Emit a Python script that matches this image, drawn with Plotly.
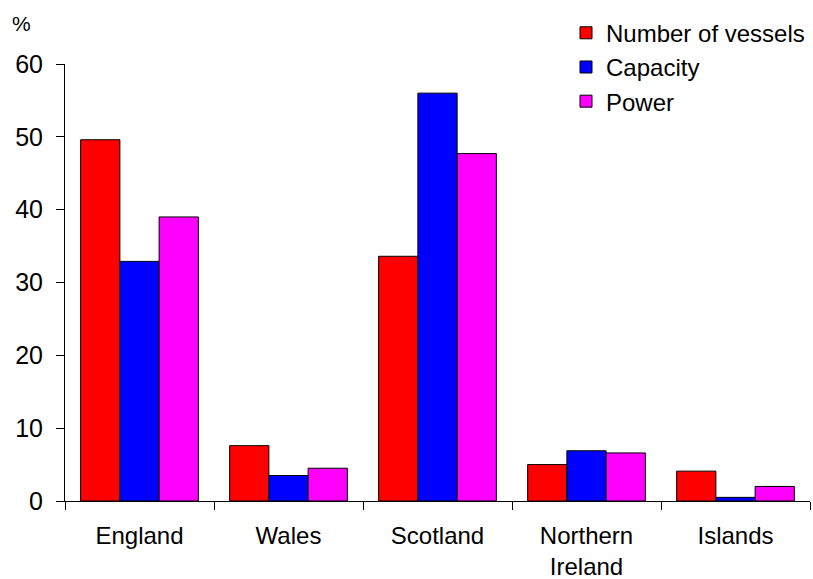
import plotly.graph_objects as go

regions = ["England", "Wales", "Scotland", "Northern<br>Ireland", "Islands"]
vessels = [49.6, 7.6, 33.6, 5.0, 4.1]
capacity = [32.9, 3.5, 56.0, 6.9, 0.5]
power = [39.0, 4.5, 47.7, 6.6, 2.0]

series = [
    ("Number of vessels", vessels, "#ff0000"),
    ("Capacity", capacity, "#0000ff"),
    ("Power", power, "#ff00ff"),
]

fig = go.Figure()
for name, vals, col in series:
    fig.add_trace(go.Bar(
        x=regions, y=vals, name=name,
        marker=dict(color=col, line=dict(color="#000000", width=1)),
    ))

font_family = "Liberation Sans, Arial, sans-serif"

fig.update_layout(
    width=813, height=579,
    margin=dict(l=65, r=3, t=64, b=78, autoexpand=False),
    paper_bgcolor="white", plot_bgcolor="white",
    barmode="group", bargap=0.21, bargroupgap=0,
    font=dict(family=font_family, color="black", size=25),
    showlegend=True,
    legend=dict(
        x=1.0, xanchor="right", y=1.122, yanchor="top",
        font=dict(size=24), bgcolor="rgba(0,0,0,0)",
        tracegroupgap=0, itemwidth=30,
    ),
    xaxis=dict(
        showline=True, linecolor="black", linewidth=1,
        ticks="outside", ticklen=8, tickcolor="black",
        tickson="boundaries", showgrid=False, automargin=False,
        tickfont=dict(size=24), ticklabelstandoff=13,
    ),
    yaxis=dict(
        range=[0, 60], tickvals=[0, 10, 20, 30, 40, 50, 60],
        showline=True, linecolor="black", linewidth=1,
        ticks="outside", ticklen=8, tickcolor="black",
        showgrid=False, zeroline=False, automargin=False,
        tickfont=dict(size=25), ticklabelstandoff=8,
    ),
    annotations=[dict(
        text="%", xref="paper", yref="paper",
        x=-0.059, y=1.092, xanchor="center", yanchor="middle",
        showarrow=False, font=dict(size=21),
    )],
)

fig.write_html("out.html")
